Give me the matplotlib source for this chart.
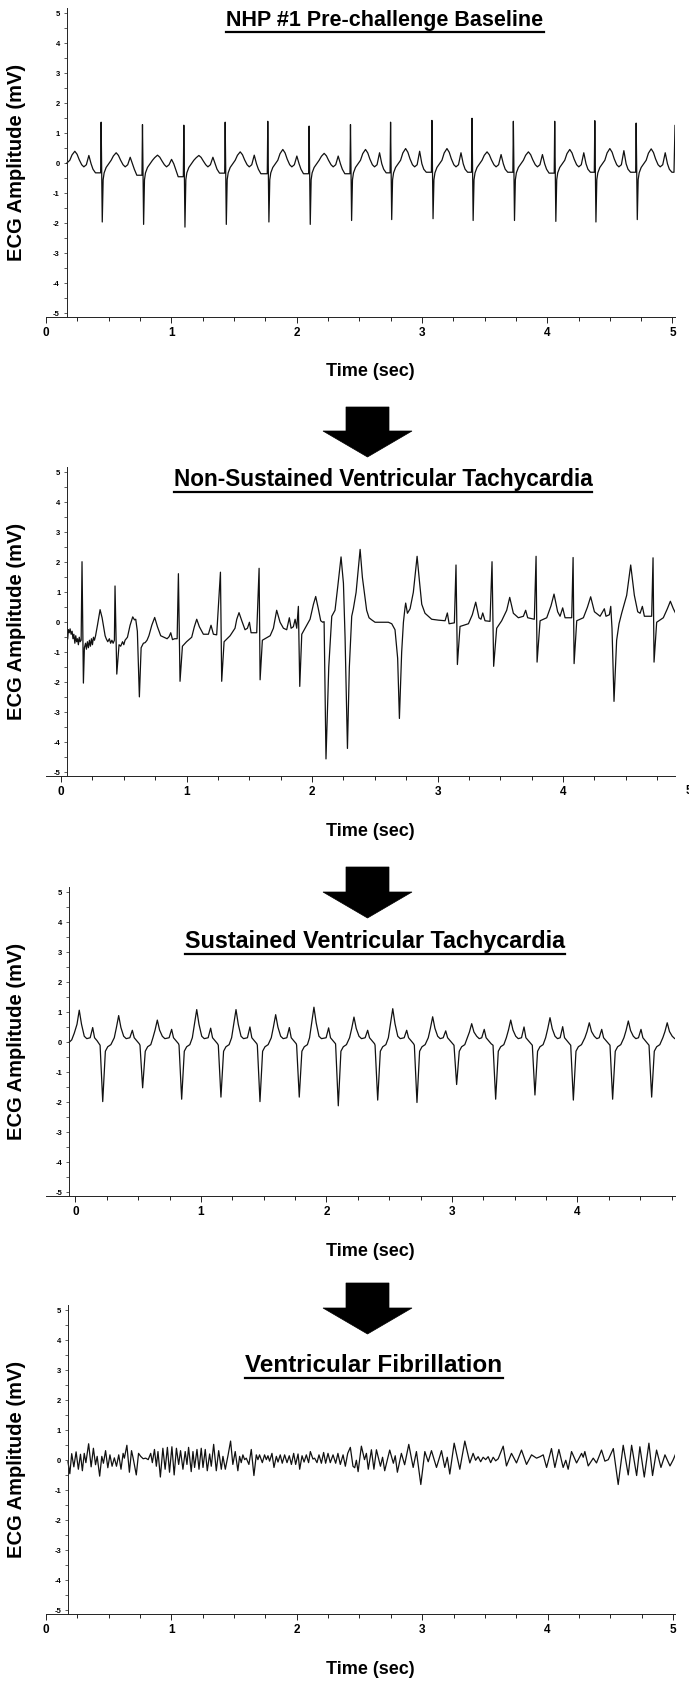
import numpy as np
import matplotlib
matplotlib.use("Agg")
import matplotlib.pyplot as plt
from matplotlib.patches import Polygon
from matplotlib.lines import Line2D
from matplotlib.ticker import MultipleLocator

plt.rcParams['font.family'] = ['Liberation Sans', 'DejaVu Sans']
plt.rcParams['axes.unicode_minus'] = False

# ------------------------------------------------------------------ data
TITLES = ["NHP #1 Pre-challenge Baseline",
          "Non-Sustained Ventricular Tachycardia",
          "Sustained Ventricular Tachycardia",
          "Ventricular Fibrillation"]
X_LABEL = "Time (sec)"
Y_LABEL = "ECG Amplitude (mV)"

# Panel 1 - baseline sinus rhythm (per-beat features, mV / sec)
P1_LEAD_T = [0.165, 0.19, 0.208, 0.23, 0.248, 0.265, 0.285, 0.302, 0.322, 0.342, 0.36, 0.375, 0.395]
P1_LEAD_V = [0.0, 0.1, 0.28, 0.40, 0.30, 0.12, -0.05, -0.12, -0.05, 0.26, -0.02, -0.2, -0.32]
P1_R_TIME = [0.44, 0.77, 1.10, 1.43, 1.77, 2.10, 2.43, 2.75, 3.08, 3.40, 3.73, 4.06, 4.38, 4.71]
P1_R_AMP = [1.37, 1.29, 1.27, 1.37, 1.40, 1.24, 1.29, 1.37, 1.43, 1.50, 1.40, 1.40, 1.42, 1.34]
P1_S_AMP = [-1.96, -2.04, -2.13, -2.04, -1.96, -2.04, -1.91, -1.88, -1.85, -1.91, -1.91, -1.94, -1.96, -1.88]
P1_T_AMP = [0.35, 0.27, 0.26, 0.38, 0.46, 0.33, 0.46, 0.49, 0.49, 0.38, 0.38, 0.46, 0.49, 0.48]
P1_P_AMP = [0.20, 0.13, 0.20, 0.27, 0.24, 0.24, 0.35, 0.40, 0.35, 0.29, 0.29, 0.35, 0.42, 0.35]
P1_PRE = [-0.32, -0.40, -0.45, -0.33, -0.35, -0.35, -0.35, -0.32, -0.30, -0.30, -0.30, -0.33, -0.30, -0.30]
P1_END_T = [4.995, 5.012, 5.02]
P1_END_V = [-0.30, -0.30, 1.26]
# beat outline: (offset from R, feature, factor)
P1_SHAPE = [(-0.012, 'pre', 1), (-0.004, 'pre', 1), (0.0, 'R', 1), (0.009, 'S', 1),
            (0.016, None, -0.55), (0.024, None, -0.32), (0.04, None, -0.14), (0.06, None, -0.02),
            (0.08, None, 0.1), (0.098, 'T', 0.7), (0.12, 'T', 1), (0.138, 'T', 0.75),
            (0.155, 'T', 0.3), (0.175, None, -0.05), (0.192, None, -0.12), (0.212, None, -0.05),
            (0.232, 'P', 1), (0.25, None, -0.02), (0.265, None, -0.2)]

# Panel 2 - non-sustained VT (trace vertices)
P2_T = [0.053, 0.058, 0.065, 0.072, 0.080, 0.088, 0.095, 0.102, 0.110, 0.117, 0.124, 0.131, 0.138, 0.145, 0.152, 0.160,
        0.167, 0.178, 0.186, 0.195, 0.202, 0.210, 0.218, 0.226, 0.234, 0.242, 0.250, 0.258, 0.266, 0.275,
        0.290, 0.311, 0.327, 0.351, 0.360, 0.372, 0.385, 0.395, 0.405, 0.415, 0.425,
        0.430, 0.444, 0.462, 0.475, 0.490, 0.500, 0.510, 0.520, 0.529, 0.550, 0.571, 0.585, 0.595, 0.608,
        0.624, 0.638, 0.656, 0.670, 0.685, 0.700, 0.723, 0.746, 0.768, 0.794, 0.820, 0.845, 0.861, 0.874, 0.888, 0.905, 0.925,
        0.935, 0.948, 0.967, 1.000, 1.041, 1.062, 1.081, 1.102, 1.134, 1.174, 1.195, 1.214, 1.240,
        1.270, 1.280, 1.299, 1.347, 1.386, 1.400, 1.418, 1.440, 1.466, 1.485, 1.501, 1.514, 1.559,
        1.578, 1.586, 1.604, 1.666, 1.692, 1.718, 1.745, 1.772, 1.798, 1.819, 1.833, 1.851, 1.865, 1.878,
        1.891, 1.902, 1.918, 1.944, 1.984, 2.011, 2.029, 2.050, 2.069, 2.085, 2.096,
        2.111, 2.133, 2.157, 2.183, 2.205, 2.231, 2.250, 2.263, 2.282, 2.297, 2.316, 2.329, 2.351, 2.383,
        2.401, 2.422, 2.435, 2.454, 2.475, 2.502, 2.555, 2.608, 2.635, 2.661, 2.682, 2.696, 2.714, 2.728,
        2.741, 2.746, 2.760, 2.781, 2.807, 2.837, 2.855, 2.874, 2.900, 2.953, 3.007, 3.060, 3.078, 3.092, 3.134,
        3.147, 3.158, 3.179, 3.246, 3.277, 3.304, 3.330, 3.346, 3.360, 3.378, 3.418,
        3.434, 3.447, 3.471, 3.511, 3.551, 3.575, 3.604, 3.644, 3.684, 3.702, 3.718, 3.771,
        3.785, 3.793, 3.817, 3.870, 3.904, 3.928, 3.957, 3.976, 3.997, 4.016, 4.069,
        4.080, 4.088, 4.109, 4.162, 4.194, 4.220, 4.250, 4.295, 4.329, 4.342, 4.369, 4.380, 4.390,
        4.406, 4.427, 4.446, 4.467, 4.507, 4.539, 4.568, 4.595, 4.614, 4.632, 4.648, 4.706,
        4.717, 4.725, 4.746, 4.799, 4.831, 4.855, 4.879, 4.898]
P2_V = [-0.55, -0.25, -0.35, -0.22, -0.40, -0.30, -0.55, -0.40, -0.70, -0.45, -0.65, -0.55, -0.75, -0.50, -0.65, -0.60,
        2.02, -2.03, -0.85, -0.70, -0.90, -0.65, -0.85, -0.60, -0.80, -0.55, -0.75, -0.50, -0.60, -0.45,
        -0.10, 0.42, 0.15, -0.45, -0.55, -0.65, -0.55, -0.70, -0.60, -0.70, -0.60,
        1.21, -1.73, -0.75, -0.80, -0.65, -0.75, -0.60, -0.55, -0.50, -0.10, 0.18, 0.08, 0.10, -0.30,
        -2.49, -0.85, -0.70, -0.68, -0.60, -0.45, -0.10, 0.16, -0.15, -0.45, -0.50, -0.55, -0.48, -0.35, -0.58, -0.55, -0.55,
        1.62, -1.97, -0.80, -0.65, -0.50, -0.15, 0.10, -0.15, -0.40, -0.40, -0.10, -0.40, -0.42,
        1.67, -1.97, -0.65, -0.45, -0.20, 0.10, 0.32, 0.05, -0.25, -0.20, 0.00, -0.35, -0.35,
        1.80, -1.92, -0.60, -0.45, -0.20, 0.40, 0.00, -0.20, -0.25, 0.15, -0.20, -0.15, 0.10, -0.20,
        0.53, -2.14, -0.40, -0.20, 0.10, 0.60, 0.86, 0.45, 0.05, 0.00, 0.02,
        -4.56, -1.50, 0.20, 0.40, 1.20, 2.18, 1.30, -0.50, -4.21, -1.50, 0.20, 0.45, 1.00, 2.43,
        1.50, 0.83, 0.40, 0.15, 0.08, 0.00, 0.00, 0.00, -0.05, -0.25, -1.20, -3.21, -1.00, 0.00,
        0.50, 0.64, 0.30, 0.45, 1.00, 2.20, 1.40, 0.60, 0.30, 0.10, 0.07, 0.05, 0.31, -0.05, -0.02,
        1.91, -1.41, -0.14, -0.05, 0.25, 0.67, 0.15, 0.10, 0.31, 0.05, 0.03,
        2.02, -1.47, -0.20, 0.05, 0.40, 0.83, 0.30, 0.15, 0.20, 0.40, 0.15, 0.10,
        2.20, -1.33, 0.05, 0.15, 0.55, 0.94, 0.35, 0.20, 0.48, 0.15, 0.15,
        2.16, -1.38, 0.05, 0.15, 0.50, 0.85, 0.35, 0.20, 0.45, 0.20, 0.25, 0.53, -0.20,
        -2.64, -0.60, -0.05, 0.30, 0.90, 1.91, 0.90, 0.35, 0.30, 0.53, 0.20, 0.20,
        2.15, -1.33, 0.00, 0.15, 0.45, 0.70, 0.45, 0.29]

# Panel 3 - sustained VT (per-beat features)
P3_LEAD_T = [-0.05, -0.03, -0.01, 0.012, 0.03, 0.048, 0.07, 0.09, 0.117, 0.137, 0.152, 0.172]
P3_LEAD_V = [0.0, 0.08, 0.3, 0.6, 1.07, 0.6, 0.2, 0.12, 0.15, 0.49, 0.15, 0.05]
P3_TROUGH_T = [0.217, 0.535, 0.846, 1.159, 1.470, 1.783, 2.094, 2.408, 2.721, 3.037, 3.348, 3.661, 3.967, 4.280, 4.591]
P3_TROUGH_V = [-1.98, -1.52, -1.90, -1.83, -1.98, -1.83, -2.12, -1.93, -2.01, -1.41, -1.90, -1.76, -1.93, -1.90, -1.83]
P3_PEAK_T = [0.344, 0.652, 0.966, 1.279, 1.595, 1.900, 2.219, 2.528, 2.846, 3.157, 3.468, 3.781, 4.094, 4.405, 4.715]
P3_PEAK_V = [0.89, 0.74, 1.09, 1.09, 0.92, 1.17, 0.84, 1.12, 0.85, 0.62, 0.74, 0.82, 0.65, 0.71, 0.65]
P3_SMALL_T = [0.453, 0.766, 1.077, 1.390, 1.704, 2.017, 2.328, 2.639, 2.950, 3.257, 3.574, 3.882, 4.193, 4.506]
P3_SMALL_V = [0.40, 0.43, 0.47, 0.51, 0.49, 0.48, 0.40, 0.40, 0.38, 0.43, 0.51, 0.52, 0.43, 0.43]
P3_END_T = [4.80]
P3_END_V = [0.14]

# Panel 4 - ventricular fibrillation (turning points)
P4_T = [0.175, 0.190, 0.205, 0.222, 0.240, 0.258, 0.275, 0.290, 0.305, 0.318, 0.340, 0.360, 0.378, 0.395, 0.408,
        0.428, 0.445, 0.458, 0.475, 0.493, 0.510, 0.527, 0.545, 0.562, 0.580, 0.598, 0.615, 0.625, 0.645, 0.665,
        0.682, 0.695, 0.720, 0.738, 0.755, 0.775, 0.795, 0.815, 0.835, 0.848, 0.865, 0.880, 0.893, 0.912, 0.932,
        0.950, 0.968, 0.985, 1.004, 1.022, 1.040, 1.058, 1.073, 1.092, 1.110, 1.124, 1.137, 1.158, 1.172, 1.185,
        1.204, 1.220, 1.238, 1.252, 1.270, 1.286, 1.305, 1.318, 1.337, 1.358, 1.377, 1.398, 1.411, 1.430, 1.451,
        1.472, 1.490, 1.509, 1.530, 1.544, 1.557, 1.570, 1.584, 1.597, 1.618, 1.637, 1.658, 1.677, 1.690, 1.703,
        1.725, 1.743, 1.757, 1.770, 1.783, 1.802, 1.818, 1.837, 1.850, 1.868, 1.884, 1.903, 1.922, 1.940, 1.957,
        1.975, 1.991, 2.010, 2.023, 2.042, 2.058, 2.076, 2.094, 2.108, 2.129, 2.142, 2.161, 2.177, 2.196, 2.214,
        2.230, 2.249, 2.267, 2.289, 2.310, 2.328, 2.347, 2.369, 2.387, 2.406, 2.427, 2.448, 2.462, 2.475, 2.489,
        2.515, 2.540, 2.555, 2.570, 2.595, 2.615, 2.635, 2.667, 2.684, 2.701, 2.741, 2.770, 2.785, 2.802, 2.834,
        2.860, 2.893, 2.928, 2.954, 2.989, 3.021, 3.048, 3.074, 3.114, 3.154, 3.180, 3.200, 3.220, 3.255, 3.300,
        3.340, 3.380, 3.406, 3.426, 3.446, 3.466, 3.486, 3.506, 3.526, 3.546, 3.566, 3.586, 3.606, 3.646, 3.672,
        3.712, 3.752, 3.792, 3.832, 3.872, 3.912, 3.940, 3.965, 3.992, 4.031, 4.058, 4.090, 4.124, 4.145, 4.164,
        4.191, 4.231, 4.271, 4.284, 4.297, 4.324, 4.364, 4.390, 4.430, 4.457, 4.484, 4.524, 4.563, 4.603, 4.643,
        4.670, 4.710, 4.736, 4.771, 4.808, 4.837, 4.869, 4.904, 4.936, 4.976, 5.002, 5.029]
P4_V = [-0.05, -0.45, 0.22, -0.22, 0.28, -0.30, 0.20, -0.35, 0.23, -0.08, 0.55, -0.22, 0.40, -0.15, 0.13,
        -0.53, 0.13, -0.10, 0.32, -0.25, 0.18, -0.20, 0.08, -0.20, 0.18, -0.30, 0.23, 0.07, 0.50, -0.40,
        0.32, 0.07, -0.49, 0.23, 0.13, 0.05, 0.07, 0.02, 0.23, -0.08, 0.36, -0.20, 0.29, -0.56, 0.40,
        -0.30, 0.43, -0.40, 0.45, -0.49, 0.40, -0.14, 0.32, -0.30, 0.29, -0.14, 0.43, -0.38, 0.29, -0.24,
        0.36, -0.30, 0.40, -0.24, 0.36, -0.35, 0.21, -0.20, 0.53, -0.35, 0.32, -0.30, 0.13, -0.30, 0.15,
        0.64, -0.14, 0.29, -0.35, 0.13, -0.08, 0.18, 0.02, 0.07, -0.14, 0.36, -0.51, 0.18, 0.02, 0.18,
        -0.08, 0.18, 0.02, 0.15, -0.03, 0.23, -0.24, 0.13, -0.06, 0.18, -0.10, 0.18, -0.08, 0.15, -0.14,
        0.23, -0.14, 0.21, -0.30, 0.15, -0.06, 0.18, -0.08, 0.29, 0.04, 0.07, -0.08, 0.18, -0.10, 0.26,
        -0.10, 0.23, -0.08, 0.18, -0.10, 0.23, -0.14, 0.18, -0.20, 0.23, 0.43, -0.20, -0.25, 0.00, -0.38,
        0.47, 0.02, 0.23, -0.30, 0.35, -0.30, 0.35, -0.20, 0.10, -0.35, 0.34, -0.10, 0.15, -0.40, 0.23,
        -0.15, 0.53, -0.24, 0.29, -0.81, 0.29, -0.05, 0.32, -0.24, 0.32, -0.24, 0.10, -0.46, 0.57, -0.30,
        0.64, -0.09, 0.23, 0.00, 0.12, -0.05, 0.10, 0.02, 0.12, -0.08, 0.10, -0.02, 0.05, 0.47, -0.19,
        0.23, -0.09, 0.34, -0.14, 0.18, 0.07, 0.12, 0.18, -0.24, 0.39, -0.24, 0.36, -0.24, 0.00, -0.30,
        0.29, -0.09, 0.23, 0.10, 0.29, -0.19, 0.07, -0.09, 0.34, -0.03, 0.02, 0.39, -0.81, 0.50, -0.49,
        0.50, -0.51, 0.45, -0.56, 0.57, -0.51, 0.34, -0.24, 0.18, -0.19, 0.02, 0.29]

# ------------------------------------------------------------------ build traces
def build_p1():
    t, v = list(P1_LEAD_T), list(P1_LEAD_V)
    for i, r in enumerate(P1_R_TIME):
        feat = {'pre': P1_PRE[i], 'R': P1_R_AMP[i], 'S': P1_S_AMP[i],
                'T': P1_T_AMP[i], 'P': P1_P_AMP[i]}
        for off, key, fac in P1_SHAPE:
            t.append(r + off)
            v.append(feat[key] * fac if key else fac)
        if i + 1 < len(P1_R_TIME):
            t.append(r + 0.285)
            v.append(P1_PRE[i + 1])
    t += P1_END_T
    v += P1_END_V
    return np.array(t), np.array(v)


def build_p3():
    t, v = list(P3_LEAD_T), list(P3_LEAD_V)
    n = len(P3_TROUGH_T)
    for i in range(n):
        tr, pk = P3_TROUGH_T[i], P3_PEAK_T[i]
        pv = P3_PEAK_V[i]
        seg = [(tr - 0.021, -0.1), (tr, P3_TROUGH_V[i]), (tr + 0.021, -0.3), (tr + 0.04, -0.15),
               (tr + 0.065, -0.08), (pk - 0.035, 0.15), (pk - 0.018, 0.55 * pv), (pk, pv),
               (pk + 0.018, 0.55 * pv), (pk + 0.04, 0.2), (pk + 0.06, 0.12)]
        if i < len(P3_SMALL_T):
            st = P3_SMALL_T[i]
            seg += [(st - 0.02, 0.15), (st, P3_SMALL_V[i]), (st + 0.015, 0.15),
                    (st + 0.035, 0.05), (st + 0.055, -0.05)]
        for a, b in seg:
            t.append(a)
            v.append(b)
    t += P3_END_T
    v += P3_END_V
    t, v = np.array(t), np.array(v)
    o = np.argsort(t, kind='stable')
    return t[o], v[o]


traces = [build_p1(), (np.array(P2_T), np.array(P2_V)), build_p3(),
          (np.array(P4_T), np.array(P4_V))]

# ------------------------------------------------------------------ layout (figure pixels)
W, H = 689, 1682
fig = plt.figure(figsize=(W / 100, H / 100), dpi=100)


def fx(x):
    return x / W


def fy(y):
    return 1 - y / H


AX_LEFT, AX_RIGHT = 46, 675
AX_TOPS = [8, 467, 887, 1305]
AX_H = 309
XLIMS = [(0.0, 5.02), (-0.12, 4.892), (-0.235, 4.777), (0.0, 5.016)]
SPINE_X = [0.165, 0.05, -0.05, 0.175]
TITLE_CX = [385, 383, 375, 374]
TITLE_CY = [18, 478, 940, 1363]
TITLE_FS = [15.5, 16.3, 16.8, 17.5]
ARROWS = [(407, 431, 457), (867, 892, 918), (1283, 1308, 1334)]

axes = []
for i in range(4):
    top = AX_TOPS[i]
    ax = fig.add_axes([fx(AX_LEFT), fy(top + AX_H), (AX_RIGHT - AX_LEFT) / W, AX_H / H])
    ax.patch.set_alpha(0)
    t, v = traces[i]
    ax.plot(t, v, color='#111111', lw=0.9, solid_joinstyle='round')
    ax.set_xlim(*XLIMS[i])
    ax.set_ylim(-5.13, 5.18)
    for s in ['top', 'right']:
        ax.spines[s].set_visible(False)
    ax.spines['left'].set_position(('data', SPINE_X[i]))
    for s in ['left', 'bottom']:
        ax.spines[s].set_linewidth(0.7)
        ax.spines[s].set_color('#222222')
    ax.xaxis.set_major_locator(MultipleLocator(1))
    ax.xaxis.set_minor_locator(MultipleLocator(0.25))
    ax.yaxis.set_major_locator(MultipleLocator(1))
    ax.yaxis.set_minor_locator(MultipleLocator(0.5))
    ax.tick_params(axis='x', which='major', length=4.5, width=0.7, labelsize=8.5, pad=3, color='#222222')
    ax.tick_params(axis='x', which='minor', length=3.0, width=0.7, color='#222222')
    ax.tick_params(axis='y', which='both', length=2.5, width=0.6, labelsize=5.5, pad=2.5, color='#444444')
    for lab in ax.get_xticklabels() + ax.get_yticklabels():
        lab.set_fontweight('bold')
    axes.append(ax)

    # axis labels
    fig.text(fx(370), fy(top + AX_H + 55), X_LABEL, ha='center', va='center',
             fontsize=13, fontweight='bold')
    fig.text(fx(17), fy(top + AX_H / 2), Y_LABEL, ha='center', va='center',
             rotation=90, fontsize=14.5, fontweight='bold')

# partially visible "5" at the right edge of panel 2
axes[1].annotate("5", xy=(5, 0), xycoords=('data', 'axes fraction'), xytext=(0, -6.5),
                 textcoords='offset points', ha='center', va='top', fontsize=8.5,
                 fontweight='bold', annotation_clip=False)

# titles with underline
title_texts = []
for i in range(4):
    tt = fig.text(fx(TITLE_CX[i]), fy(TITLE_CY[i] + 0.5 * TITLE_FS[i]), TITLES[i], ha='center',
                  va='baseline', fontsize=TITLE_FS[i], fontweight='bold')
    title_texts.append(tt)

fig.canvas.draw()
rend = fig.canvas.get_renderer()
for i, tt in enumerate(title_texts):
    bb = tt.get_window_extent(renderer=rend)
    y_ul = fy(TITLE_CY[i] + 0.5 * TITLE_FS[i] + 6)
    fig.add_artist(Line2D([bb.x0 / W, bb.x1 / W], [y_ul, y_ul], transform=fig.transFigure,
                          color='black', lw=1.6))

# arrows between panels
SHAFT = (346, 389)
HEAD = (323, 412)
CX = 367.5
for top, base, tip in ARROWS:
    pts = [(SHAFT[0], top), (SHAFT[1], top), (SHAFT[1], base), (HEAD[1], base),
           (CX, tip), (HEAD[0], base), (SHAFT[0], base)]
    fig.add_artist(Polygon([(fx(a), fy(b)) for a, b in pts], closed=True,
                           transform=fig.transFigure, facecolor='black', edgecolor='black', lw=0.5))

fig.savefig("out.png", dpi=100)
